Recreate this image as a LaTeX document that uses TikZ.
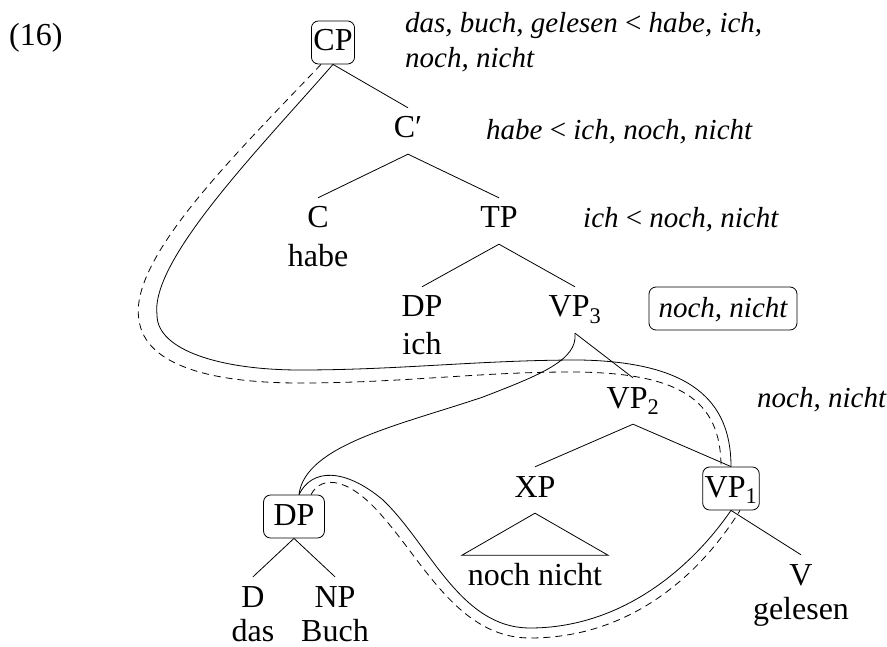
\documentclass[tikz,border=0pt]{standalone}
\usepackage{fontspec}
\setmainfont{Liberation Serif}
\newcommand\lab{\fontsize{32}{38}\selectfont}
\newcommand\annfont{\fontsize{29}{35}\selectfont\itshape}
\begin{document}
\begin{tikzpicture}[x=1pt,y=-1pt,
  cat/.style={font=\lab, text height=20pt, text depth=6pt, inner xsep=1pt, inner ysep=10pt, anchor=base},
  word/.style={font=\lab, inner sep=0pt, anchor=base},
  ann/.style={font=\annfont, inner sep=0pt, anchor=base west},
  boxed/.style={draw, rounded corners=7pt, font=\lab, text height=20pt, text depth=3pt, inner ysep=10pt, inner xsep=2pt, anchor=base, line width=0.8pt},
  branch/.style={line width=0.8pt},
  move/.style={line width=0.8pt},
  dmove/.style={line width=0.8pt, dash pattern=on 7pt off 5pt}]
\useasboundingbox (0,0) rectangle (887,647);
\fill[white] (0,0) rectangle (887,647);

% nodes
\node[word, anchor=base west] (ex) at (9,46) {(16)};
\node[boxed] (CP) at (333,51) {CP};
\node[ann] (a1) at (405,33) {das, buch, gelesen {\upshape<} habe, ich,};
\node[ann] (a1b) at (405,68) {noch, nicht};
\node[cat] (Cb) at (408,138) {C′};
\node[ann] (a2) at (486,140) {habe {\upshape<} ich, noch, nicht};
\node[cat] (C) at (318,228) {C};
\node[word] (habe) at (318,267) {habe};
\node[cat] (TP) at (499,228) {TP};
\node[ann] (a3) at (583,228) {ich {\upshape<} noch, nicht};
\node[cat] (DPs) at (422,317) {DP};
\node[word] (ich) at (422,355) {ich};
\node[cat] (VP3) at (575,317) {VP\textsubscript{3}};
\node[font=\annfont, draw, rounded corners=7pt, line width=0.8pt, text height=20pt, text depth=1pt, inner ysep=11pt, minimum width=148pt, anchor=base] (a4) at (723,318) {noch, nicht};
\node[cat] (VP2) at (633,408) {VP\textsubscript{2}};
\node[ann] (a5) at (757,407) {noch, nicht};
\node[cat] (XP) at (535,497) {XP};
\node[boxed] (VP1) at (731,497) {VP\textsubscript{1}};
\node[word] (nn) at (535,585) {noch nicht};
\node[cat] (V) at (801,585) {V};
\node[word] (gel) at (801,619) {gelesen};
\node[boxed, inner xsep=10pt] (DP) at (294,525) {DP};
\node[cat] (D) at (253,607) {D};
\node[cat] (NP) at (335,607) {NP};
\node[word] (das) at (253,641) {das};
\node[word] (Buch) at (335,641) {Buch};

% tree branches
\draw[branch] (CP.south) -- (Cb.north);
\draw[branch] (Cb.south) -- (C.north);
\draw[branch] (Cb.south) -- (TP.north);
\draw[branch] (TP.south) -- (DPs.north);
\draw[branch] (TP.south) -- (VP3.north);
\draw[branch] (VP3.south) -- (VP2.north);
\draw[branch] (VP2.south) -- (XP.north);
\draw[branch] (VP2.south) -- (VP1.north);
\draw[branch] (XP.south) -- ++(-73,42) -- ++(146,0) -- cycle;
\draw[branch] (VP1.south) -- (V.north);
\draw[branch] (DP.south) -- (D.north);
\draw[branch] (DP.south) -- (NP.north);

% movement paths
\draw[move] (CP.south) .. controls (260,148) and (150,260) .. (157,315)
  .. controls (157,350) and (220,370) .. (300,370)
  .. controls (400,370) and (480,360) .. (580,360)
  .. controls (690,362) and (731,400) .. (VP1.north);
\draw[dmove] ([xshift=-12pt]CP.south) .. controls (240,150) and (128,258) .. (139,320)
  .. controls (145,365) and (210,383) .. (300,383)
  .. controls (400,383) and (480,372) .. (570,372)
  .. controls (680,372) and (721,400) .. ([xshift=-10pt]VP1.north);
\draw[move] (VP3.south) .. controls (578,360) and (540,375) .. (483,397)
  .. controls (400,425) and (305,445) .. ([xshift=5pt]DP.north);
\draw[move] ([xshift=5pt]DP.north) .. controls (312,468) and (345,468) .. (383,500)
  .. controls (430,545) and (460,628) .. (530,628)
  .. controls (620,628) and (690,570) .. (VP1.south);
\draw[dmove] ([xshift=17pt]DP.north) .. controls (322,474) and (350,478) .. (383,517)
  .. controls (425,565) and (460,638) .. (530,638)
  .. controls (630,638) and (700,575) .. ([xshift=9pt]VP1.south);
\end{tikzpicture}
\end{document}
